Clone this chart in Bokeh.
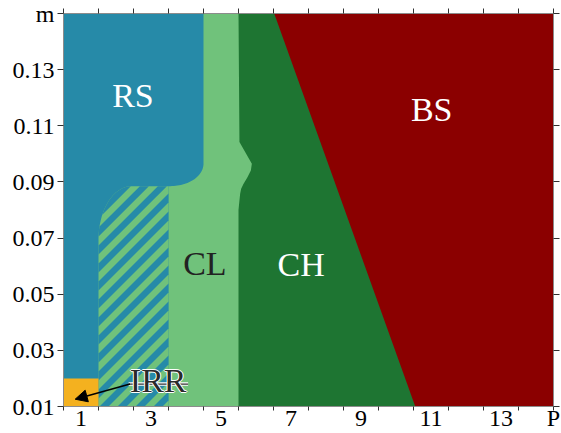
import numpy as np
from bokeh.plotting import figure
from bokeh.models import (Range1d, LinearAxis, FixedTicker, NumeralTickFormatter,
                          Label, Arrow, NormalHead)
from bokeh.embed import file_html
from bokeh.resources import INLINE

# ---- axes -------------------------------------------------------------
P_MIN, P_MAX = 0.5, 14.5
M_MIN, M_MAX = 0.01, 0.15
P_EDGES = [0.5 + i for i in range(15)]             # cell edges (tick marks)
P_TICK_POS = [1, 3, 5, 7, 9, 11, 13]
P_TICK_LABELS = ["1", "3", "5", "7", "9", "11", "13"]
M_TICKS = [0.01, 0.03, 0.05, 0.07, 0.09, 0.11, 0.13]
X_NAME, Y_NAME = "P", "m"

# ---- phase boundaries ---------------------------------------------------
# RS / CL boundary: vertical at P=3.5 (low m) and P=4.5 (high m), joined by a rounded corner
RS_CL_LOW_P, RS_CL_HIGH_P = 3.5, 4.5
RS_CORNER_M_LOW, RS_CORNER_M_HIGH = 0.0885, 0.0965

# CL / CH boundary with its bump around m ~ 0.09-0.10
CL_CH_P = [5.5, 5.5, 5.527, 5.547, 5.576, 5.641, 5.756, 5.853, 5.881, 5.527, 5.5]
CL_CH_M = [0.01, 0.080, 0.0834, 0.0858, 0.0876, 0.0893, 0.0917, 0.0941, 0.0965, 0.1042, 0.15]

# CH / BS boundary (straight line)
CH_BS_P = [6.52, 10.55]
CH_BS_M = [0.15, 0.01]

# hatched (mixed RS/CL) zone
HATCH_P = [1.5, 3.5]
HATCH_M_TOP = 0.0885

# IRR cell
IRR_P = [0.5, 1.5]
IRR_M = [0.01, 0.02]

C_RS = "#268aa8"
C_CL = "#70c27b"
C_CH = "#1e7532"
C_BS = "#8b0000"
C_IRR = "#f4b11f"
SERIF = "Liberation Serif"

W, H = 561, 433
p = figure(width=W, height=H, x_range=Range1d(P_MIN, P_MAX), y_range=Range1d(M_MIN, M_MAX),
           output_backend="svg", toolbar_location=None, title=None,
           x_axis_location=None, y_axis_location=None,
           min_border_left=63, min_border_right=8, min_border_top=13, min_border_bottom=27)
p.grid.grid_line_color = None
p.outline_line_color = "#8c8c8c"
p.background_fill_color = C_RS

FRAME_W, FRAME_H = W - 63 - 8, H - 13 - 27
SX = FRAME_W / (P_MAX - P_MIN)
SY = FRAME_H / (M_MAX - M_MIN)

# RS everywhere first, the other phases are painted on top
p.quad(left=[P_MIN], right=[P_MAX], bottom=[M_MIN], top=[M_MAX], fill_color=C_RS, line_color=None)

# CL
th = np.linspace(-np.pi / 2, 0, 30)
cx = RS_CL_LOW_P + 0.05
arc_x = cx + (RS_CL_HIGH_P - cx) * np.cos(th)
arc_y = RS_CORNER_M_HIGH + (RS_CORNER_M_HIGH - RS_CORNER_M_LOW) * np.sin(th)
cl_x = [RS_CL_LOW_P, RS_CL_LOW_P] + list(arc_x) + [RS_CL_HIGH_P, P_MAX, P_MAX]
cl_y = [M_MIN, RS_CORNER_M_LOW] + list(arc_y) + [M_MAX, M_MAX, M_MIN]
p.patch(cl_x, cl_y, fill_color=C_CL, line_color=None)

# CH
ch_x = CL_CH_P + [P_MAX, P_MAX]
ch_y = CL_CH_M + [M_MAX, M_MIN]
p.patch(ch_x, ch_y, fill_color=C_CH, line_color=None)

# BS
bs_x = CH_BS_P + [P_MAX, P_MAX]
bs_y = CH_BS_M + [M_MIN, M_MAX]
p.patch(bs_x, bs_y, fill_color=C_BS, line_color=None)

# hatched zone: rounded top-left corner
rx, ry = 0.95, 0.019
ccx, ccy = HATCH_P[0] + rx, HATCH_M_TOP - ry
th2 = np.linspace(np.pi / 2, np.pi, 30)
h_x = [HATCH_P[0], HATCH_P[1], HATCH_P[1]] + list(ccx + rx * np.cos(th2))
h_y = [M_MIN, M_MIN, HATCH_M_TOP] + list(ccy + ry * np.sin(th2))
p.patch(h_x, h_y, fill_color=C_CL, line_color=None)


def clip(poly, a, b, d):
    """Keep the part of a convex polygon with a*u + b*v <= d."""
    out = []
    n = len(poly)
    for i in range(n):
        P, Q = poly[i], poly[(i + 1) % n]
        fp = a * P[0] + b * P[1] - d
        fq = a * Q[0] + b * Q[1] - d
        if fp <= 0:
            out.append(P)
        if fp * fq < 0:
            t = fp / (fp - fq)
            out.append((P[0] + t * (Q[0] - P[0]), P[1] + t * (Q[1] - P[1])))
    return out


# diagonal stripes, worked out in screen-like units so they run at 45 degrees
region = [((x - P_MIN) * SX, (y - M_MIN) * SY) for x, y in zip(h_x, h_y)]
period, band = 18.0, 9.0
us = [q[0] - q[1] for q in region]
sx_list, sy_list = [], []
c = np.floor(min(us) / period) * period
while c < max(us):
    poly = clip(region, -1, 1, -c)
    poly = clip(poly, 1, -1, c + band) if poly else []
    if len(poly) >= 3:
        sx_list.append([P_MIN + u / SX for u, v in poly])
        sy_list.append([M_MIN + v / SY for u, v in poly])
    c += period
p.patches(sx_list, sy_list, fill_color=C_RS, line_color=None)

# IRR
p.quad(left=[IRR_P[0]], right=[IRR_P[1]], bottom=[IRR_M[0]], top=[IRR_M[1]],
       fill_color=C_IRR, line_color=None)

# ---- axes ---------------------------------------------------------------
AX_LINE = "#8c8c8c"
TICK = "#303030"


def style(ax, major_out, minor_out):
    ax.axis_line_color = AX_LINE
    ax.major_tick_line_color = TICK
    ax.minor_tick_line_color = TICK
    ax.major_tick_in = 0
    ax.minor_tick_in = 0
    ax.major_tick_out = major_out
    ax.minor_tick_out = minor_out
    ax.major_label_text_font = SERIF
    ax.major_label_text_color = "black"


# bottom: marks on the cell edges, labels on the odd cell centres
x_over = {float(t): s for t, s in zip(P_TICK_POS, P_TICK_LABELS)}
x_over[P_MAX] = X_NAME
xb = LinearAxis(ticker=FixedTicker(ticks=P_TICK_POS + [P_MAX], minor_ticks=P_EDGES),
                major_label_overrides=x_over, major_label_standoff=-6)
style(xb, 0, 4)
xb.major_label_text_font_size = "24px"
p.add_layout(xb, "below")

xt = LinearAxis(ticker=FixedTicker(ticks=[], minor_ticks=P_EDGES), major_label_standoff=0)
style(xt, 5, 5)
p.add_layout(xt, "above")

yl = LinearAxis(ticker=FixedTicker(ticks=M_TICKS + [M_MAX]),
                formatter=NumeralTickFormatter(format="0.00"),
                major_label_overrides={M_MAX: Y_NAME}, major_label_standoff=3)
style(yl, 6, 6)
yl.major_label_text_font_size = "24px"
p.add_layout(yl, "left")

yr = LinearAxis(ticker=FixedTicker(ticks=[], minor_ticks=M_TICKS + [M_MAX]), major_label_standoff=0)
style(yr, 6, 6)
p.add_layout(yr, "right")

# ---- region names -------------------------------------------------------
names = [("RS", 2.485, 0.1208, "white"), ("BS", 11.02, 0.1157, "white"),
         ("CL", 4.54, 0.0608, "#222222"), ("CH", 7.29, 0.0605, "white")]
for txt, x, y, col in names:
    p.add_layout(Label(x=x, y=y, text=txt, text_align="center", text_baseline="alphabetic",
                       text_font=SERIF, text_font_size="34px", text_color=col))

# IRR callout: underlined label with a thin white halo and an arrow into the cell
irr_x, irr_y = 3.205, 0.0192
ul_x, ul_y = [2.36, 4.06], [0.0180, 0.0180]
p.line(ul_x, ul_y, line_color="white", line_width=3.5)
p.line(ul_x, ul_y, line_color="#333333", line_width=1.2)
for dx, dy in [(-1, 0), (1, 0), (0, -1), (0, 1)]:
    p.add_layout(Label(x=irr_x, y=irr_y, text="IRR", x_offset=dx, y_offset=dy, text_align="center",
                       text_baseline="alphabetic", text_font=SERIF, text_font_size="34px",
                       text_color="white"))
p.add_layout(Label(x=irr_x, y=irr_y, text="IRR", text_align="center", text_baseline="alphabetic",
                   text_font=SERIF, text_font_size="34px", text_color="#2a2a2a"))
p.add_layout(Arrow(end=NormalHead(size=12, fill_color="black", line_color="black", line_width=1),
                   x_start=2.40, y_start=0.0180, x_end=0.834, y_end=0.0126,
                   line_color="black", line_width=1.5))

open("out.html", "w").write(file_html(p, INLINE))
